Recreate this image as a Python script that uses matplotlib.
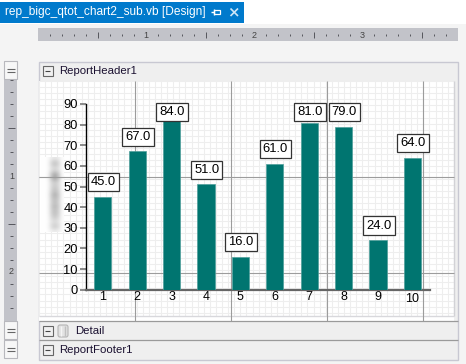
import matplotlib
matplotlib.use("Agg")
import matplotlib.pyplot as plt
from matplotlib.patches import Rectangle, FancyBboxPatch
import numpy as np

W, H = 466, 364

categories = [1, 2, 3, 4, 5, 6, 7, 8, 9, 10]
values = [45, 67, 84, 51, 16, 61, 81, 79, 24, 64]
y_ticks = [0, 10, 20, 30, 40, 50, 60, 70, 80, 90]

plt.rcParams["font.family"] = ["Liberation Sans", "DejaVu Sans"]

fig = plt.figure(figsize=(W / 100, H / 100), dpi=100, facecolor="#f4f4f4")

# window chrome drawn in pixel coordinates
bg = fig.add_axes([0, 0, 1, 1])
bg.set_xlim(0, W)
bg.set_ylim(H, 0)
bg.axis("off")

z = [1.0]


def next_z():
    # keep painter's order between the boxes and lines of the chrome
    z[0] += 0.01
    return z[0]


def box(x0, y0, x1, y1, color, edge="none", lw=0.8):
    bg.add_patch(Rectangle((x0, y0), x1 - x0, y1 - y0, facecolor=color, edgecolor=edge, linewidth=lw,
                           zorder=next_z()))


def line(x0, y0, x1, y1, color, lw=0.75):
    bg.plot([x0, x1], [y0, y1], color=color, lw=lw, solid_capstyle="butt", zorder=next_z())


box(0, 0, W, 24, "white")
box(0, 2, 244, 23, "#007acc")
bg.text(5, 12.5, "rep_bigc_qtot_chart2_sub.vb [Design]", color="white", fontsize=8.6, va="center", zorder=5)
line(211, 12, 214, 12, "white", 1)
line(214, 9, 214, 15, "white", 1)
box(214, 9.5, 220, 14, "none", "white", 0.9)
line(230.5, 8.5, 238, 16, "#cfe6f7", 1.2)
line(238, 8.5, 230.5, 16, "#cfe6f7", 1.2)

# top ruler
box(38, 28, 458, 41, "#c2c3c9")
for k in range(1, 35):
    x = 38 + k * 12
    if k % 9 == 0:
        continue
    tall = k % 9 == 5
    line(x, 31.5 if tall else 33.5, x, 38 if tall else 36, "#55565c", 0.7)
for num, x in [(1, 146), (2, 254), (3, 362)]:
    bg.text(x, 35, str(num), fontsize=6.5, color="#444444", ha="center", va="center", zorder=5)

# left ruler
box(4, 78, 17, 322, "#c2c3c9")
for k in range(1, 21):
    y = 68 + k * 12
    if y in (176, 272):
        continue
    tall = y in (128, 224, 320)
    line(8 if tall else 10, y, 15 if tall else 13, y, "#55565c", 0.7)
bg.text(11.5, 176.5, "1", fontsize=6.5, color="#444444", ha="center", va="center", zorder=5)
bg.text(11.5, 272, "2", fontsize=6.5, color="#444444", ha="center", va="center", zorder=5)
for y0, y1 in [(61, 79), (321, 339), (340, 358)]:
    box(4, y0, 17, y1, "#f7f7f7", "#b8b8bd")
    line(7, (y0 + y1) / 2 - 1.5, 15, (y0 + y1) / 2 - 1.5, "#666666", 0.8)
    line(7, (y0 + y1) / 2 + 1.5, 15, (y0 + y1) / 2 + 1.5, "#666666", 0.8)

# report surface
box(38.5, 61.5, 458, 359.5, "#efefef", "#c8c8d2", 1)
box(39, 81, 454, 321, "white")
for x in np.arange(39, 454, 6.1):
    line(x, 81, x, 316, "#eeeeee", 0.8)
for y in np.arange(81, 316, 6.1):
    line(39, y, 454, y, "#eeeeee", 0.8)
line(454, 81, 454, 316, "#d2d2d6", 1)
line(39, 316, 454, 316, "#d8d8dc", 1)

# guides
for x in [134.5, 230.5, 326.5, 422.5]:
    line(x, 81, x, 321, "#9c9c9c", 0.8)
for y in [176.5, 272.5]:
    line(39, y, 454, y, "#9c9c9c", 0.8)

# smudged label area, over the guides
column = np.array([0.0, 0.0, 0.01, 0.06, 0.2, 0.36, 0.46, 0.5, 0.46, 0.36, 0.2, 0.06])
rows = np.array([0.35, 0.6, 0.65, 0.5, 0.55, 0.8, 0.9, 0.8, 0.6, 0.6, 0.65, 0.7, 0.8, 0.75, 0.7, 0.7,
                 0.75, 0.7, 0.7, 0.65, 0.55, 0.45, 0.55, 0.55, 0.3])
smudge = np.outer(rows, column)
bg.imshow(smudge, extent=(40, 64, 232, 157), cmap="Greys", vmin=0, vmax=1, interpolation="bicubic",
          aspect="auto", zorder=next_z())
bg.set_xlim(0, W)
bg.set_ylim(H, 0)
line(39, 176.5, 64, 176.5, "#9c9c9c", 0.8)

# section bands
line(39, 321, 458, 321, "#9a9a9a", 0.9)
line(39, 340, 458, 340, "#9a9a9a", 0.9)
for y, label, tx in [(71, "ReportHeader1", 59.5), (331, "Detail", 75), (350, "ReportFooter1", 59.5)]:
    box(42.5, y - 5, 52.5, y + 5, "#f0f0f0", "#666666", 0.8)
    line(45, y, 50, y, "#444444", 0.8)
    bg.text(tx, y, label, fontsize=8.2, color="#1a1030", va="center", zorder=5)
bg.add_patch(FancyBboxPatch((58, 325), 10, 12, boxstyle="round,pad=0,rounding_size=2",
                            facecolor="#e2e2e2", edgecolor="#b5b5b5", linewidth=0.8, zorder=next_z()))
line(61, 326, 61, 336, "#f5f5f5", 1)
line(65, 326, 65, 336, "#c0c0c0", 1)

# the chart itself
left, right, top, bottom = 85.5, 429.7, 104.0, 289.7
ax = fig.add_axes([left / W, 1 - bottom / H, (right - left) / W, (bottom - top) / H])
ax.patch.set_visible(False)
ax.bar(categories, values, width=0.5, color="#007570", edgecolor="#4f9f9b", linewidth=0.5, zorder=3)
ax.set_xlim(0.5, 10.5)
ax.set_ylim(0, 90)
ax.set_xticks(categories)
ax.set_yticks(y_ticks)
ax.tick_params(axis="x", length=0, labelsize=9, pad=1, colors="black")
ax.tick_params(axis="y", length=4.5, width=1.2, color="#777777", labelsize=9.3, pad=1)
ax.get_xticklabels()[-1].set_y(-0.012)
for side in ["top", "right"]:
    ax.spines[side].set_visible(False)
ax.spines["left"].set_color("black")
ax.spines["left"].set_linewidth(1)
ax.spines["bottom"].set_color("#666666")
ax.spines["bottom"].set_linewidth(1.6)

for cat, val in zip(categories, values):
    ax.text(cat + 0.02, min(val + 7.1, 86.1), f"{val:.1f}", fontsize=9.4, ha="center", va="center",
            zorder=5, clip_on=False,
            bbox=dict(boxstyle="square,pad=0.24", facecolor="white", edgecolor="#333333", linewidth=0.9))

fig.savefig("out.png", dpi=100, facecolor=fig.get_facecolor())
